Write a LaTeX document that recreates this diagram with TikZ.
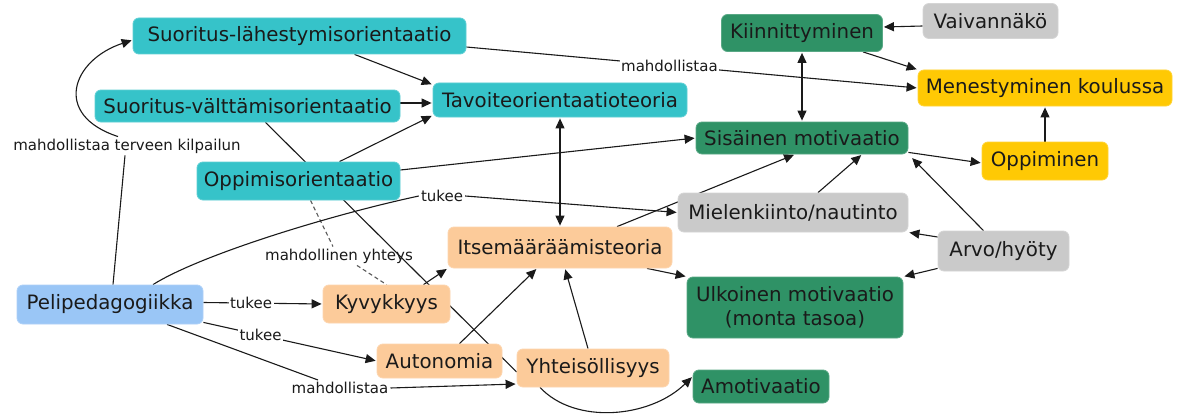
\documentclass[tikz,border=0pt]{standalone}
\usepackage{fontspec}
\setmainfont{DejaVu Sans}
\usetikzlibrary{arrows.meta,backgrounds}

\definecolor{cTeal}{HTML}{36C3C9}
\definecolor{cGreen}{HTML}{2F9266}
\definecolor{cGold}{HTML}{FFC904}
\definecolor{cPeach}{HTML}{FCCB9A}
\definecolor{cSky}{HTML}{9AC6F6}
\definecolor{cGrey}{HTML}{CACACA}
\definecolor{cInk}{HTML}{1A1A1A}

\newcommand\boxfont{\fontsize{19.8}{24}\selectfont}
\newcommand\lblfont{\fontsize{15}{18}\selectfont}

\begin{document}
\begin{tikzpicture}[x=1pt,y=-1pt,
  box/.style={rounded corners=6pt, inner sep=0pt, align=center,
              text=cInk, font=\boxfont, draw=#1!80!white, line width=0.8pt, fill=#1},
  lbl/.style={inner sep=2pt, text=cInk, font=\lblfont},
  lblw/.style={lbl, fill=white, inner sep=1.5pt},
  link/.style={line width=1.1pt, draw=cInk},
  arr/.style={link, -{Triangle[length=10pt,width=9pt]}, shorten >=1pt},
  arrs/.style={link, {Triangle[length=10pt,width=9pt]}-{Triangle[length=10pt,width=9pt]}, shorten >=1pt, shorten <=1pt},
  maybe/.style={line width=1.1pt, draw=black!65, dash pattern=on 4pt off 3pt}
]
\useasboundingbox (0,0) rectangle (1178,420);

% ---- concepts ----
\node[box=cTeal, minimum width=333pt, minimum height=36pt] (sl)  at (299.5,36)  {Suoritus-lähestymisorientaatio};
\node[box=cTeal, minimum width=305pt, minimum height=32pt] (sv)  at (247.5,106) {Suoritus-välttämisorientaatio};
\node[box=cTeal, minimum width=254pt, minimum height=34pt] (tav) at (560,100)   {Tavoiteorientaatioteoria};
\node[box=cTeal, minimum width=203pt, minimum height=38pt] (opp) at (298.5,181) {Oppimisorientaatio};

\node[box=cGreen, minimum width=161pt, minimum height=37pt] (kii) at (802,33)    {Kiinnittyminen};
\node[box=cGreen, minimum width=212pt, minimum height=32pt] (sis) at (802,138)   {Sisäinen motivaatio};
\node[box=cGreen, minimum width=216pt, minimum height=61pt] (ulk) at (795,307.5) {Ulkoinen motivaatio\\(monta tasoa)};
\node[box=cGreen, minimum width=136pt, minimum height=33pt] (ami) at (761,386.5) {Amotivaatio};

\node[box=cGrey, minimum width=135pt, minimum height=35pt] (vai) at (990.5,21)  {Vaivannäkö};
\node[box=cGrey, minimum width=230pt, minimum height=39pt] (mie) at (793,212.5) {Mielenkiinto/nautinto};
\node[box=cGrey, minimum width=131pt, minimum height=40pt] (arv) at (1003.5,251) {Arvo/hyöty};

\node[box=cGold, minimum width=254pt, minimum height=36pt] (men) at (1045,88)  {Menestyminen koulussa};
\node[box=cGold, minimum width=126pt, minimum height=38pt] (opi) at (1045,161) {Oppiminen};

\node[box=cPeach, minimum width=224pt, minimum height=41pt] (its) at (560,247.5) {Itsemääräämisteoria};
\node[box=cPeach, minimum width=127pt, minimum height=38pt] (kyv) at (386.5,304) {Kyvykkyys};
\node[box=cPeach, minimum width=125pt, minimum height=34pt] (aut) at (439.5,361) {Autonomia};
\node[box=cPeach, minimum width=152pt, minimum height=38pt] (yht) at (593,368)   {Yhteisöllisyys};

\node[box=cSky, minimum width=186pt, minimum height=39pt] (pel) at (110,304.5) {Pelipedagogiikka};

% ---- free-standing link labels ----
\node[lbl] (l1) at (127,146) {mahdollistaa terveen kilpailun};
\node[lbl] (l2) at (442,196) {tukee};
\node[lbl] (l3) at (339,256) {mahdollinen yhteys};
\node[lbl] (l4) at (340,388) {mahdollistaa};

% ---- links, kept under the boxes ----
\begin{pgfonlayer}{background}
\fill[white] (0,0) rectangle (1178,420);

% goal orientation cluster
\draw[link] ([xshift=3pt]pel.north) -- ([xshift=-2pt]l1.south);
\draw[arr] ([xshift=-9pt]l1.north) .. controls (52,115) and (72,60) .. ([yshift=-4pt]sl.west);
\draw[arr] ([xshift=55pt]sl.south) -- ([yshift=-2pt]tav.north west);
\draw[arr] ([yshift=3pt]sv.east) -- ([yshift=-3pt]tav.west);
\draw[arr] ([xshift=41pt]opp.north) -- ([yshift=2pt]tav.south west);
\draw[arr] ([yshift=11pt]opp.east) -- (sis.west);
\draw[arr] ([yshift=-11pt]sl.east) -- node[lblw, pos=.45] {mahdollistaa} (men.west);
\draw[arrs] (tav.south) -- (its.north);
\draw[link] ([xshift=18pt]sv.south) -- ([yshift=-4pt]yht.west);
\draw[maybe] ([xshift=12pt]opp.south) -- ([xshift=-6pt]l3.north);
\draw[maybe] ([xshift=18pt]l3.south) -- (kyv.north);

% motivation cluster
\draw[arrs] (kii.south) -- (sis.north);
\draw[arr] ([yshift=-5pt]vai.west) -- ([yshift=6pt]kii.east);
\draw[arr] ([xshift=61pt]kii.south) -- (men.north west);
\draw[arr] ([yshift=2pt]sis.south east) -- ([yshift=-2pt]opi.west);
\draw[arr] (opi.north) -- (men.south);
\draw[arr] ([xshift=57pt]its.north) -- ([xshift=-7pt]sis.south);
\draw[arr] ([xshift=25pt]mie.north) -- ([xshift=60pt]sis.south);
\draw[arr] ([xshift=-20pt]arv.north) -- ([shift={(3pt,-3pt)}]sis.south east);
\draw[arr] ([yshift=14pt]arv.west) -- (mie.south east);
\draw[arr] ([yshift=3pt]arv.south west) -- (ulk.north east);
\draw[arr] ([xshift=87pt]its.south) -- (ulk.north west);

% self-determination cluster
\draw[arr] ([xshift=37pt]kyv.north) -- (its.south west);
\draw[arr] ([xshift=20pt]aut.north) -- ([xshift=-23pt]its.south);
\draw[arr] ([xshift=-5pt]yht.north) -- ([xshift=5pt]its.south);
\draw[arr] ([xshift=-53pt]yht.south) .. controls (575,425) and (650,418) .. ([yshift=10pt]ami.west);

% game pedagogy links
\draw[link] ([xshift=43pt]pel.north) .. controls (200,255) and (330,215) .. (l2.west);
\draw[arr] (l2.east) -- (mie.west);
\draw[arr] ([yshift=2pt]pel.east) -- node[lblw, pos=.4] {tukee} (kyv.west);
\draw[arr] ([yshift=2pt]pel.south east) -- node[lblw, pos=.33] {tukee} (aut.west);
\draw[link] ([xshift=57pt]pel.south) -- ([xshift=-22pt]l4.north);
\draw[arr] (l4.east) -- ([yshift=-16pt]yht.west);
\end{pgfonlayer}
\end{tikzpicture}
\end{document}
